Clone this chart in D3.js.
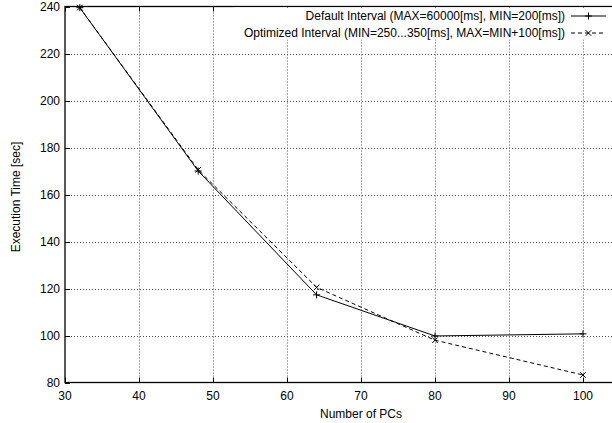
<!DOCTYPE html>
<html>
<head>
<meta charset="utf-8">
<script src="https://cdn.jsdelivr.net/npm/d3@7.9.0/dist/d3.min.js"></script>
<style>
  body { margin: 0; background: #fff; }
  svg { display: block; font-family: "Liberation Sans", Arial, sans-serif; }
</style>
</head>
<body>
<svg id="chart" width="612" height="423"></svg>
<script>
// data
const pcs = [32, 48, 64, 80, 100];
const defaultTimes = [239.5, 170, 117.3, 99.8, 100.7];
const optimizedTimes = [239.5, 170.5, 120.5, 98, 83.2];
const xTicks = [30, 40, 50, 60, 70, 80, 90, 100, 110];
const yTicks = [80, 100, 120, 140, 160, 180, 200, 220, 240];
const legendLabels = [
    "Default Interval (MAX=60000[ms], MIN=200[ms])",
    "Optimized Interval (MIN=250...350[ms], MAX=MIN+100[ms])"
];

const svg = d3.select("#chart");
// plot frame (right border sits past the cropped edge, as in the reference)
const plotL = 65, plotR = 657, plotT = 6.5, plotB = 382.5;
const fs = 12;

const x = d3.scaleLinear().domain([30, 110]).range([plotL, plotR]);
const y = d3.scaleLinear().domain([80, 240]).range([plotB, plotT]);

const g = svg.append("g");

// dotted grid
g.selectAll(".vgrid")
    .data(xTicks.filter(d => d > 30 && d < 110))
    .enter().append("line")
    .attr("x1", d => Math.round(x(d)) + 0.5).attr("x2", d => Math.round(x(d)) + 0.5)
    .attr("y1", plotT).attr("y2", plotB)
    .attr("stroke", "#555").attr("stroke-width", 1)
    .attr("stroke-dasharray", "1,2");
g.selectAll(".hgrid")
    .data(yTicks.filter(d => d > 80 && d < 240))
    .enter().append("line")
    .attr("x1", plotL).attr("x2", plotR)
    .attr("y1", d => Math.round(y(d)) + 0.5).attr("y2", d => Math.round(y(d)) + 0.5)
    .attr("stroke", "#555").attr("stroke-width", 1)
    .attr("stroke-dasharray", "1,2");

// key background hides grid under the legend
svg.append("rect")
    .attr("x", 234).attr("y", plotT + 1)
    .attr("width", 612 - 234).attr("height", 32)
    .attr("fill", "#fff");

// border
g.append("rect")
    .attr("x", plotL).attr("y", plotT)
    .attr("width", plotR - plotL).attr("height", plotB - plotT)
    .attr("fill", "none").attr("stroke", "#000").attr("stroke-width", 1.3);

// inward ticks on all sides
const tl = 5;
xTicks.forEach(d => {
    const px = Math.round(x(d)) + 0.5;
    g.append("line").attr("x1", px).attr("x2", px).attr("y1", plotB).attr("y2", plotB - tl).attr("stroke", "#000");
    g.append("line").attr("x1", px).attr("x2", px).attr("y1", plotT).attr("y2", plotT + tl).attr("stroke", "#000");
});
yTicks.forEach(d => {
    const py = Math.round(y(d)) + 0.5;
    g.append("line").attr("x1", plotL).attr("x2", plotL + tl).attr("y1", py).attr("y2", py).attr("stroke", "#000");
    g.append("line").attr("x1", plotR).attr("x2", plotR - tl).attr("y1", py).attr("y2", py).attr("stroke", "#000");
});

// tick labels (110 falls past the cropped edge)
g.selectAll(".xl").data(xTicks.filter(d => d <= 100)).enter().append("text")
    .attr("x", d => x(d)).attr("y", plotB + 17)
    .attr("text-anchor", "middle").attr("font-size", fs)
    .text(d => d);
g.selectAll(".yl").data(yTicks).enter().append("text")
    .attr("x", plotL - 5).attr("y", d => y(d) + 4.3)
    .attr("text-anchor", "end").attr("font-size", fs)
    .text(d => d);

// axis titles
svg.append("text")
    .attr("x", (plotL + plotR) / 2).attr("y", 418)
    .attr("text-anchor", "middle").attr("font-size", fs)
    .text("Number of PCs");
svg.append("text")
    .attr("transform", `translate(20,197) rotate(-90)`)
    .attr("text-anchor", "middle").attr("font-size", fs)
    .text("Execution Time [sec]");

// series
const series = [
    { vals: defaultTimes, dash: null, mark: "plus" },
    { vals: optimizedTimes, dash: "4,3", mark: "cross" }
];
const line = d3.line().x(d => x(d[0])).y(d => y(d[1]));
const ms = 3.5;
function marker(sel, type, cx, cy) {
    if (type === "plus") {
        sel.append("path").attr("d", `M${cx - ms},${cy}H${cx + ms}M${cx},${cy - ms}V${cy + ms}`)
            .attr("stroke", "#000").attr("fill", "none");
    } else {
        const k = ms * 0.8;
        sel.append("path").attr("d", `M${cx - k},${cy - k}L${cx + k},${cy + k}M${cx - k},${cy + k}L${cx + k},${cy - k}`)
            .attr("stroke", "#000").attr("fill", "none");
    }
}
series.forEach(s => {
    const pts = pcs.map((p, i) => [p, s.vals[i]]);
    g.append("path").datum(pts)
        .attr("d", line)
        .attr("fill", "none").attr("stroke", "#000").attr("stroke-width", 1)
        .attr("stroke-dasharray", s.dash);
    pts.forEach(p => marker(g, s.mark, x(p[0]), y(p[1])));
});

// legend
const keyRows = [16, 33];
series.forEach((s, i) => {
    svg.append("text")
        .attr("x", 565).attr("y", keyRows[i] + 4.3)
        .attr("text-anchor", "end").attr("font-size", fs)
        .text(legendLabels[i]);
    svg.append("line")
        .attr("x1", 571).attr("x2", 606)
        .attr("y1", keyRows[i]).attr("y2", keyRows[i])
        .attr("stroke", "#000").attr("stroke-dasharray", s.dash);
    marker(svg, s.mark, 588.5, keyRows[i]);
});
</script>
</body>
</html>
